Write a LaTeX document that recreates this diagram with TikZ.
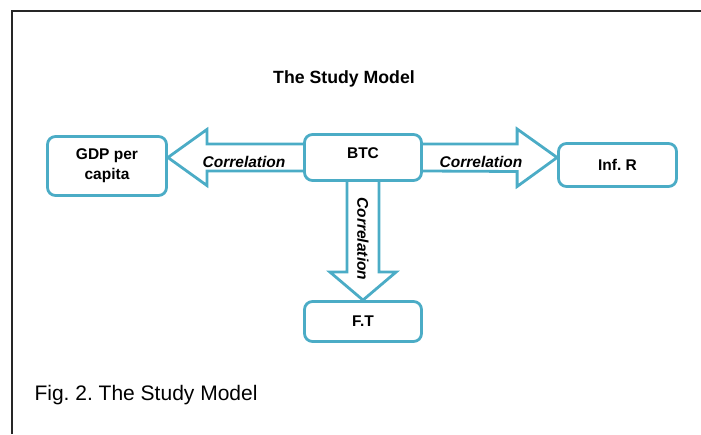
\documentclass[tikz,border=0pt]{standalone}
\usepackage{fontspec}
\setmainfont{Liberation Sans}
\usepackage{xcolor}
\usetikzlibrary{calc, positioning}

\definecolor{aqua}{HTML}{4BACC6}
\frenchspacing

\begin{document}
\begin{tikzpicture}[
        x=1pt, y=1pt,
        varbox/.style = {rectangle, rounded corners=8pt, draw=aqua, line width=2.8pt, fill=white, align=center, inner sep=0pt, font=\fontsize{15.5}{20}\selectfont\bfseries},
        blockarrow/.style = {draw=aqua, line width=2.8pt, line join=miter},
        corr/.style = {font=\fontsize{15.5}{18}\selectfont\bfseries\itshape, inner sep=0pt}
    ]

    \useasboundingbox (0,0) rectangle (701,434);
    \draw[line width=1.8pt, black!85] (12,0) -- (12,423) -- (701,423);

    \node[font=\fontsize{17.7}{20}\selectfont\bfseries] (title) at (344,355) {The Study Model};

    % boxes
    \node[varbox, minimum width=119pt, minimum height=59pt] (gdp) at (107,268) {GDP per\\capita};
    \node[varbox, minimum width=117pt, minimum height=46pt, text depth=9pt] (btc) at (363,276.5) {BTC};
    \node[varbox, minimum width=118pt, minimum height=43pt] (infr) at (617.5,269) {Inf. R};
    \node[varbox, minimum width=117pt, minimum height=40pt] (ft) at (363,112.5) {F.T};

    % block arrows
    \draw[blockarrow] ($(btc.west)+(0,13.5)$) -- ($(gdp.east |- btc.west)+(39,13.5)$) -- ++(0,14.5)
        -- (gdp.east |- btc.west) -- ++(39,-28) -- ++(0,14.5) -- ($(btc.west)+(0,-13.5)$);
    \draw[blockarrow] ($(btc.east)+(0,13.5)$) -- ($(infr.west |- btc.east)+(-40,13.5)$) -- ++(0,15)
        -- (infr.west |- btc.east) -- ++(-40,-29) -- ++(0,15) -- ($(btc.east)+(0,-13.5)$);
    \draw[blockarrow] ($(btc.south)+(-16,0)$) -- ($(ft.north)+(-16,28)$) -- ++(-17,0)
        -- (ft.north) -- ++(33,28) -- ++(-17,0) -- ($(btc.south)+(16,0)$);

    \node[corr] (corrl) at (244,272) {Correlation};
    \node[corr] (corrr) at (481,272) {Correlation};
    \node[corr, rotate=-90] (corrd) at (363,195) {Correlation};

    \node[anchor=west, font=\fontsize{21}{24}\selectfont] (caption) at (31,39) {Fig. 2. The Study Model};
\end{tikzpicture}
\end{document}
